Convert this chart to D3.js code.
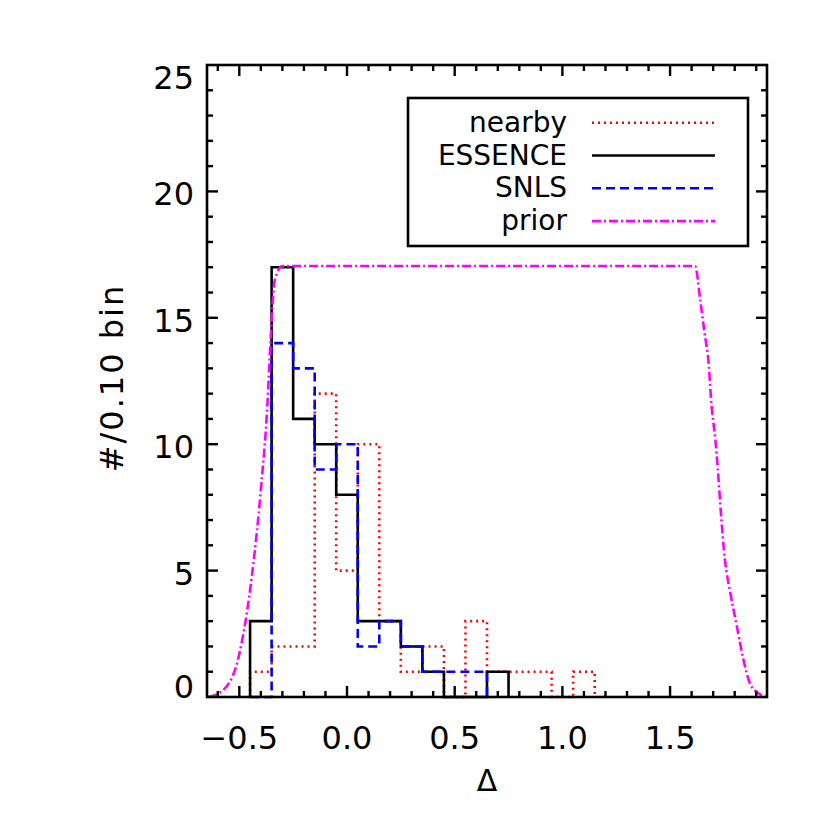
<!DOCTYPE html>
<html><head><meta charset="utf-8">
<script src="https://cdn.jsdelivr.net/npm/d3@7/dist/d3.min.js"></script>
<style>body{margin:0;background:#fff}svg{display:block}</style>
</head><body>
<svg id="c" width="830" height="830"></svg>
<script>
// bin centers (width 0.10)
const binCenters = [-0.4,-0.3,-0.2,-0.1,0.0,0.1,0.2,0.3,0.4,0.5,0.6,0.7,0.8,0.9,1.0,1.1];
const nearby  = [1,2,2,12,5,10,3,1,2,0,3,1,1,1,0,1];
const essence = [3,17,11,10,8,3,3,2,1,0,0,1];
const snls    = [0,14,13,9,10,2,3,2,1,1,1];
const priorX = [-0.644,-0.574,-0.50,-0.44,-0.40,-0.37,-0.355,-0.335,-0.30,1.616,1.64,1.66,1.68,1.69,1.71,1.755,1.78,1.81,1.84,1.87,1.91,1.948];
const priorY = [0,0.28,1.7,4.9,8.2,11.5,14.1,16.5,17.05,17.05,15.7,14.4,13.1,11.8,10.2,5.4,4.1,2.8,1.5,0.55,0.15,0];
const xMajor = [-0.5,0.0,0.5,1.0,1.5];
const xLabels = ["\u22120.5","0.0","0.5","1.0","1.5"];
const yMajor = [0,5,10,15,20,25];
const yLabels = ["0","5","10","15","20","25"];
const series = [
  {name:"nearby", vals:nearby, color:"#ff0000", dash:"2,4"},
  {name:"ESSENCE", vals:essence, color:"#000000", dash:null},
  {name:"SNLS", vals:snls, color:"#0000ff", dash:"9,5"},
];
const binW = 0.1;
const font = "'DejaVu Sans', sans-serif";

const svg = d3.select("#c");
const L=207, R=767, T=65, B=697;
const x = d3.scaleLinear().domain([-0.65,1.95]).range([L,R]);
const y = d3.scaleLinear().domain([0,25]).range([B,T]);

function stepPts(vals){
  const pts=[[binCenters[0]-binW/2,0]];
  vals.forEach((v,i)=>{
    pts.push([binCenters[i]-binW/2,v]);
    pts.push([binCenters[i]+binW/2,v]);
  });
  pts.push([binCenters[vals.length-1]+binW/2,0]);
  return pts;
}
const line = d3.line().x(d=>x(d[0])).y(d=>y(d[1]));

const g = svg.append("g");
series.forEach(s=>{
  g.append("path").attr("d",line(stepPts(s.vals)))
   .attr("fill","none").attr("stroke",s.color).attr("stroke-width",2.6)
   .attr("stroke-dasharray",s.dash).attr("stroke-linejoin","miter");
});
const priorPts = priorX.map((v,i)=>[v,priorY[i]]);
g.append("path").attr("d",d3.line().x(d=>x(d[0])).y(d=>y(d[1])).curve(d3.curveMonotoneX)(priorPts))
 .attr("fill","none").attr("stroke","#ff00ff").attr("stroke-width",2.6)
 .attr("stroke-dasharray","9,3,2,3");

// frame
svg.append("rect").attr("x",L).attr("y",T).attr("width",R-L).attr("height",B-T)
  .attr("fill","none").attr("stroke","#000").attr("stroke-width",2.6);

// ticks
const ax = svg.append("g").attr("stroke","#000").attr("stroke-width",2.4);
const xMinor = d3.range(-6,20).map(k=>k/10);
xMinor.forEach(v=>{
  const major = xMajor.some(m=>Math.abs(m-v)<1e-6);
  const len = major?11:6;
  ax.append("line").attr("x1",x(v)).attr("x2",x(v)).attr("y1",B).attr("y2",B-len);
  ax.append("line").attr("x1",x(v)).attr("x2",x(v)).attr("y1",T).attr("y2",T+len);
});
d3.range(1,25).forEach(v=>{
  const major = yMajor.includes(v);
  const len = major?11:6;
  ax.append("line").attr("y1",y(v)).attr("y2",y(v)).attr("x1",L).attr("x2",L+len);
  ax.append("line").attr("y1",y(v)).attr("y2",y(v)).attr("x1",R).attr("x2",R-len);
});

// tick labels
xMajor.forEach((v,i)=>{
  svg.append("text").attr("x",x(v)).attr("y",749).attr("text-anchor","middle")
    .attr("font-family",font).attr("font-size",32).text(xLabels[i]);
});
yMajor.forEach((v,i)=>{
  let cy = y(v)+2;
  if (v===25) cy = T+12;
  if (v===0) cy = B-11;
  svg.append("text").attr("x",194).attr("y",cy+12).attr("text-anchor","end")
    .attr("font-family",font).attr("font-size",32).text(yLabels[i]);
});

// axis titles
svg.append("text").attr("x",(L+R)/2).attr("y",791).attr("text-anchor","middle")
  .attr("font-family",font).attr("font-size",30).text("\u0394");
svg.append("text").attr("transform","translate(123,378) rotate(-90)")
  .attr("text-anchor","middle").attr("font-family",font).attr("font-size",32)
  .attr("letter-spacing",2).text("#/0.10 bin");

// legend
svg.append("rect").attr("x",408).attr("y",98).attr("width",340).attr("height",148)
  .attr("fill","#fff").attr("stroke","#000").attr("stroke-width",2.6);
const legendItems = [
  {name:"nearby", color:"#ff0000", dash:"2,4"},
  {name:"ESSENCE", color:"#000000", dash:null},
  {name:"SNLS", color:"#0000ff", dash:"9,5"},
  {name:"prior", color:"#ff00ff", dash:"9,3,2,3"},
];
legendItems.forEach((d,i)=>{
  const ly = 122.7 + i*32.8;
  svg.append("text").attr("x",567).attr("y",ly+9).attr("text-anchor","end")
    .attr("font-family",font).attr("font-size",28).attr("textLength", null).text(d.name);
  svg.append("line").attr("x1",592).attr("x2",715).attr("y1",ly).attr("y2",ly)
    .attr("stroke",d.color).attr("stroke-width",2.6).attr("stroke-dasharray",d.dash);
});
</script>
</body></html>
